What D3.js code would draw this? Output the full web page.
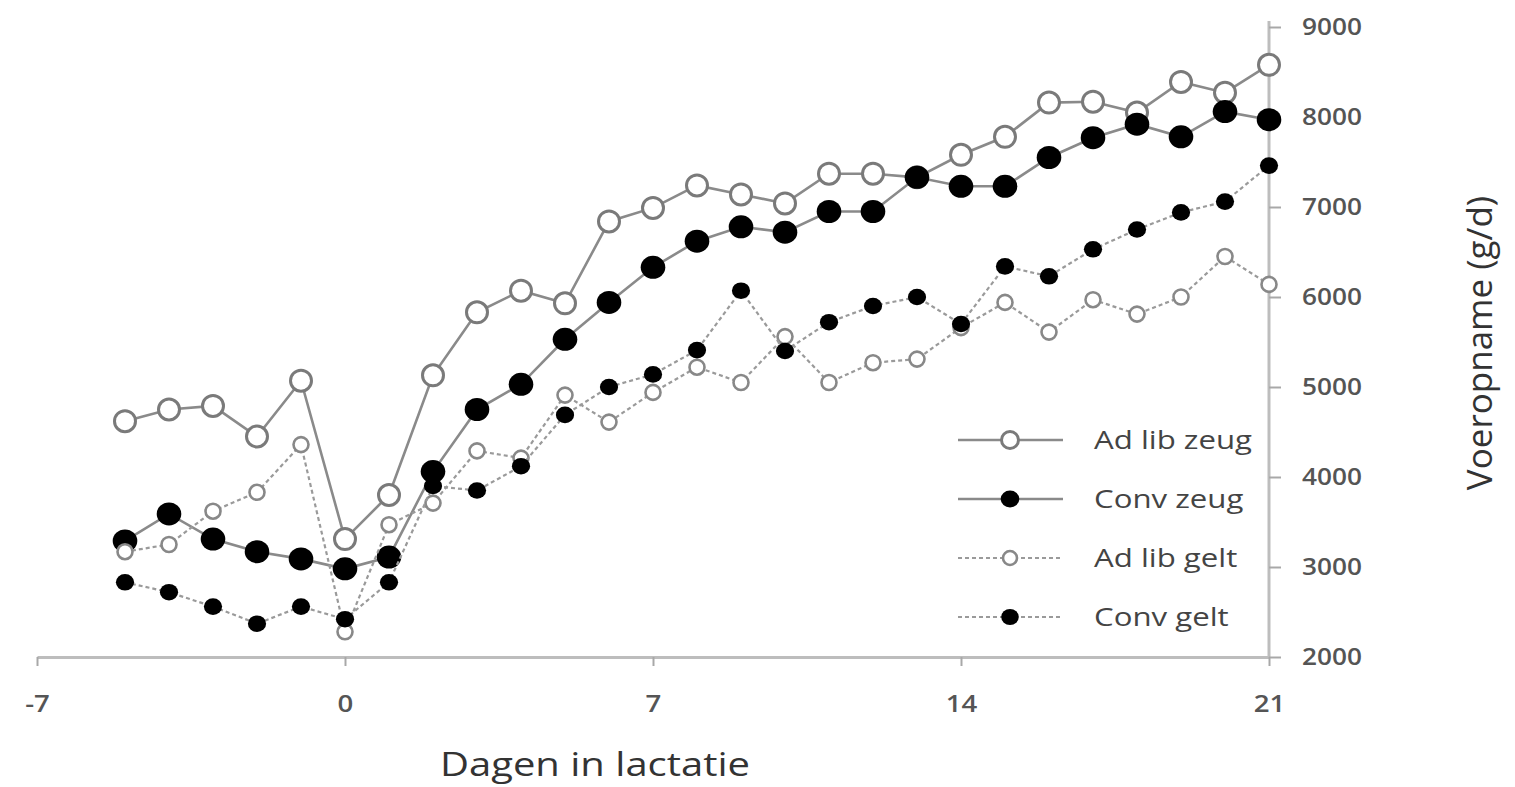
<!DOCTYPE html>
<html>
<head>
<meta charset="utf-8">
<script src="https://cdn.jsdelivr.net/npm/d3@7"></script>
<style>
  html, body { margin: 0; padding: 0; background: #fff; }
  svg { display: block; }
  text { font-family: "Open Sans", "Noto Sans", sans-serif; }
</style>
</head>
<body>
<svg id="chart" width="1515" height="787"></svg>
<script>
const days = [-5,-4,-3,-2,-1,0,1,2,3,4,5,6,7,8,9,10,11,12,13,14,15,16,17,18,19,20,21];
const adLibZeug = [4620,4750,4790,4450,5070,3310,3800,5130,5830,6070,5930,6840,6990,7240,7140,7040,7370,7370,7330,7580,7780,8160,8170,8050,8390,8270,8580];
const convZeug  = [3290,3590,3310,3170,3090,2980,3110,4060,4750,5030,5530,5940,6330,6620,6780,6720,6950,6950,7330,7230,7230,7550,7770,7920,7780,8060,7970];
const adLibGelt = [3170,3250,3620,3830,4360,2280,3470,3710,4290,4210,4910,4610,4940,5220,5050,5560,5050,5270,5310,5660,5940,5610,5970,5810,6000,6450,6140];
const convGelt  = [2830,2720,2560,2370,2560,2420,2830,3900,3850,4120,4690,5000,5140,5410,6070,5400,5720,5900,6000,5700,6340,6230,6530,6750,6940,7060,7460];
const seriesNames = ["Ad lib zeug","Conv zeug","Ad lib gelt","Conv gelt"];
const xTicks = [-7,0,7,14,21];
const yTicks = [2000,3000,4000,5000,6000,7000,8000,9000];
const xTitle = "Dagen in lactatie";
const yTitle = "Voeropname (g/d)";

const styles = {
  "Ad lib zeug": {vals: adLibZeug, dash: null, lineColor: "#8a8a8a", lw: 2.6, fill: "#fff", r: 10.5, stroke: "#7a7a7a", sw: 3, lr: 8.5},
  "Conv zeug":   {vals: convZeug,  dash: null, lineColor: "#8a8a8a", lw: 2.6, fill: "#000", r: 11.5, stroke: "#000", sw: 0, lr: 8.5},
  "Ad lib gelt": {vals: adLibGelt, dash: "4,3", lineColor: "#9a9a9a", lw: 2.2, fill: "#fff", r: 7.5, stroke: "#888", sw: 2.6, lr: 7},
  "Conv gelt":   {vals: convGelt,  dash: "4,3", lineColor: "#9a9a9a", lw: 2.2, fill: "#000", r: 8.3, stroke: "#000", sw: 0, lr: 8}
};

const SX = 1.2; // horizontal stretch of the reference's lettering

const svg = d3.select("#chart");
const x = d3.scaleLinear().domain([-7, 21]).range([37, 1269]);
const y = d3.scaleLinear().domain([2000, 9000]).range([657, 27]);

// X axis
const xAxis = svg.append("g").attr("transform", `translate(0,${y(2000)})`)
  .call(d3.axisBottom(x).tickValues(xTicks).tickSize(9).tickSizeOuter(0).tickPadding(30)
    .tickFormat(d => String(d)));
xAxis.select(".domain").attr("stroke", "#bdbdbd").attr("stroke-width", 3);
xAxis.selectAll(".tick line").attr("stroke", "#a8a8a8").attr("stroke-width", 2);
xAxis.selectAll(".tick text").attr("fill", "#555").attr("font-size", 23).attr("font-weight", 600)
  .attr("font-family", "'Open Sans', sans-serif").attr("transform", `scale(${SX},1)`);

// Y axis (right)
const yAxis = svg.append("g").attr("transform", `translate(${x(21)},0)`)
  .call(d3.axisRight(y).tickValues(yTicks).tickSize(12).tickSizeOuter(0).tickPadding(17).tickFormat(d3.format("d")));
yAxis.select(".domain").attr("stroke", "#bdbdbd").attr("stroke-width", 3)
  .attr("d", `M0,${y(9000)-6}V${y(2000)}`);
yAxis.selectAll(".tick line").attr("stroke", "#a8a8a8").attr("stroke-width", 2);
yAxis.selectAll(".tick text").attr("fill", "#555").attr("font-size", 23).attr("font-weight", 600)
  .attr("font-family", "'Open Sans', sans-serif").attr("transform", `scale(${SX * 0.95},1)`);

// Titles
svg.append("text").attr("transform", `translate(595,776) scale(${SX + 0.05},1)`).attr("text-anchor", "middle")
  .attr("font-size", 32).attr("fill", "#333").text(xTitle);
svg.append("text").attr("transform", "translate(1492,343) rotate(-90)").attr("text-anchor", "middle")
  .attr("font-size", 35).attr("fill", "#333").text(yTitle);

// Series
const line = d3.line().x((d, i) => x(days[i])).y(d => y(d));
const order = ["Ad lib zeug","Conv zeug","Ad lib gelt","Conv gelt"];
order.forEach(name => {
  const s = styles[name];
  svg.append("path").datum(s.vals).attr("d", line).attr("fill", "none")
    .attr("stroke", s.lineColor).attr("stroke-width", s.lw)
    .attr("stroke-dasharray", s.dash);
  svg.append("g").selectAll("ellipse").data(s.vals).join("ellipse")
    .attr("cx", (d, i) => x(days[i])).attr("cy", d => y(d))
    .attr("rx", s.sw ? s.r : s.r + 0.8).attr("ry", s.r)
    .attr("fill", s.fill).attr("stroke", s.sw ? s.stroke : "none").attr("stroke-width", s.sw);
});

// Legend
const legRows = [440, 499, 558, 617];
const leg = svg.append("g");
seriesNames.forEach((name, i) => {
  const s = styles[name];
  const yy = legRows[i];
  leg.append("line").attr("x1", 958).attr("x2", 1063).attr("y1", yy).attr("y2", yy)
    .attr("stroke", s.lineColor).attr("stroke-width", s.lw).attr("stroke-dasharray", s.dash);
  leg.append("ellipse").attr("cx", 1010).attr("cy", yy)
    .attr("rx", s.sw ? s.lr : s.lr + 0.8).attr("ry", s.lr)
    .attr("fill", s.fill).attr("stroke", s.sw ? s.stroke : "none").attr("stroke-width", s.sw);
  leg.append("text").attr("transform", `translate(1094,${yy + 9}) scale(${SX},1)`).attr("font-size", 26)
    .attr("fill", "#444").text(name);
});
</script>
</body>
</html>
